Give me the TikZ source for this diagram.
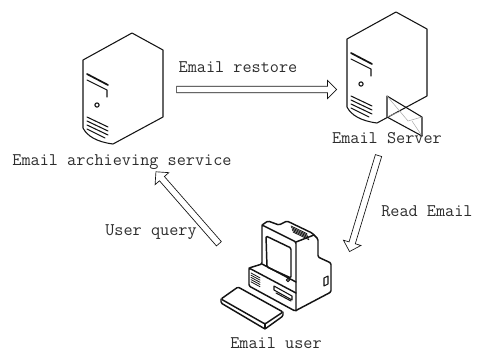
\documentclass[tikz,border=0pt]{standalone}
\usepackage{xcolor}
\usepackage{tikz}
\usetikzlibrary{positioning, calc, shapes.arrows}
\definecolor{mlInk}{RGB}{20, 20, 20}
\definecolor{mlText}{RGB}{45, 45, 45}
\definecolor{mlGray}{RGB}{170, 170, 170}
\tikzset{
    base/.style={
        font=\fontsize{13.3}{16}\selectfont\ttfamily,
        text=mlText,
        inner sep=0pt
    },
    hollow/.style={
        single arrow,
        draw=mlInk,
        line width=0.5pt,
        fill=white,
        inner sep=2.2pt,
        single arrow head extend=4.4pt,
        single arrow tip angle=90,
        single arrow head indent=0pt
    },
    case/.style={
        draw=mlInk,
        line width=0.8pt,
        line join=round
    },
    pc/.style={
        draw=mlInk,
        line width=1.1pt,
        line join=round,
        rounded corners=1pt
    },
    flap/.style={
        draw=mlGray,
        line width=0.4pt
    }
}

\begin{document}
\begin{tikzpicture}[x=0.75pt, y=-0.75pt, line cap=round]
    \useasboundingbox (0,0) rectangle (478,354);

    % Servers
    \foreach \sx/\sy in {83/60, 347/39} {
        \begin{scope}[shift={(\sx,\sy)}]
            \draw[case] (0,0) -- (49,-27) -- (80,-10) -- (80,57) -- (30,84)
                .. controls (14,82) and (4,76) .. (0,68) -- cycle;
            \draw[case, line width=1.3pt] (4,14) -- (25,25);
            \draw[case] (4,20) -- (24,30) -- (24,37);
            \draw[case] (14,45) circle (1.6pt);
            \foreach \v in {57,61,65} {
                \draw[case] (4,\v) -- (25,\v+10);
            }
            \draw[case] (4,69) -- (22,78);
        \end{scope}
    }

    % Envelope
    \draw[case] (387,96) -- (422,117) -- (422,136) -- (387,117) -- cycle;
    \draw[flap] (387,96) -- (408,121) -- (422,117);
    \draw[flap] (387,117) -- (401,111);
    \draw[flap] (422,136) -- (412,121);

    % Computer
    \draw[pc, fill=white] (262,264) -- (262,225) -- (268,221) -- (279,225) -- (287,221)
        -- (312,233) -- (318,239) -- (318,257) -- (331,263) -- (331,292)
        -- (295,311) -- (249,286) -- (249,268) -- cycle;
    \draw[pc] (262,225) -- (296,242) -- (296,311);
    \draw[pc] (296,242) -- (314,235);
    \draw[pc] (262,264) -- (296,282);
    \draw[pc] (249,268) -- (296,293);
    \draw[pc] (266,236) -- (291,248) -- (291,278) -- (267,267) -- cycle;
    \draw[case] (288,280) circle (1.3pt);
    \foreach \i in {0,...,4} {
        \draw[case, line width=0.6pt] (291+\i*0.5,226+\i*1.5) -- ++(16,7.7);
        \draw[case, line width=0.6pt] (251,273+\i*2.2) -- ++(9,4.9);
    }
    \draw[case] (274,286) -- (292,296) -- (292,300) -- (274,290) -- cycle;
    \draw[case] (276,293) -- (291,301);
    \draw[case] (324,278) -- (328,276) -- (328,284) -- (324,286) -- cycle;

    % Keyboard
    \draw[pc, fill=white] (221,299) -- (238,287) -- (283,312) -- (265,324) -- cycle;
    \draw[pc] (221,299) -- (221,303) -- (265,329) -- (283,316) -- (283,312);
    \draw[pc] (265,324) -- (265,329);

    % Arrow ends
    \coordinate (rs1) at (175,89.5);
    \coordinate (rs2) at (335,89.5);
    \coordinate (rd1) at (379,154);
    \coordinate (rd2) at (350,250);
    \coordinate (qy1) at (220,245);
    \coordinate (qy2) at (157,173);

    % Arrows
    \path let \p1=($(rs2)-(rs1)$) in
        node[hollow, minimum height={veclen(\x1,\y1)}, rotate={atan2(\y1,\x1)}]
        (restore) at ($(rs1)!0.5!(rs2)$) {};
    \path let \p1=($(rd2)-(rd1)$) in
        node[hollow, minimum height={veclen(\x1,\y1)}, rotate={atan2(\y1,\x1)}]
        (read) at ($(rd1)!0.5!(rd2)$) {};
    \path let \p1=($(qy2)-(qy1)$) in
        node[hollow, minimum height={veclen(\x1,\y1)}, rotate={atan2(\y1,\x1)}]
        (query) at ($(qy1)!0.5!(qy2)$) {};

    % Labels
    \node[base] (archiveLbl) at (122,162) {Email archieving service};
    \node[base] (serverLbl) at (387,138) {Email Server};
    \node[base] (restoreLbl) at (238,67) {Email restore};
    \node[base, anchor=west] (readLbl) at (381,211) {Read Email};
    \node[base] (queryLbl) at (151,232) {User query};
    \node[base, anchor=base] (userLbl) at (276,348) {Email user};
\end{tikzpicture}
\end{document}
